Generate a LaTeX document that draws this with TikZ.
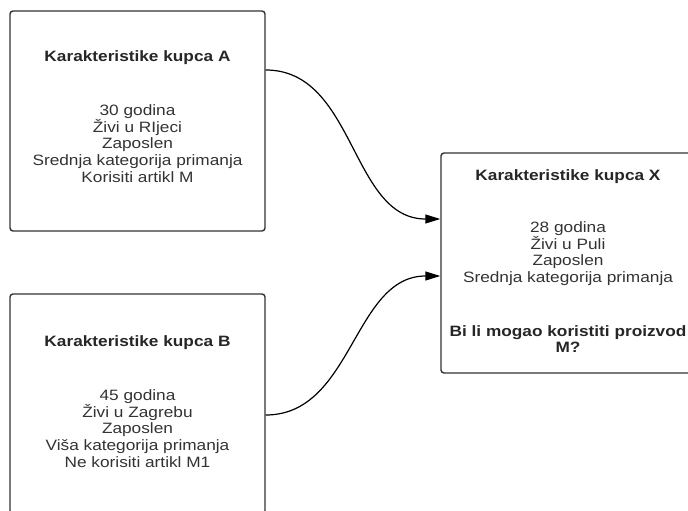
\documentclass[tikz,border=0pt]{standalone}
\usepackage{fontspec}
\setmainfont[FakeStretch=1.15]{Liberation Sans}
\usetikzlibrary{arrows.meta}
\definecolor{ink}{HTML}{333333}
\tikzset{
  card/.style={draw=ink, line width=1.4pt, rounded corners=3pt, fill=white, inner sep=0pt, minimum width=255pt, minimum height=220pt},
  txt/.style={text=ink, align=center, inner sep=0pt, font=\fontsize{15}{16.7}\selectfont},
  ttl/.style={text=black!85, align=center, inner sep=0pt, font=\fontsize{15}{16.7}\selectfont\bfseries},
  link/.style={draw=black, line width=1.2pt, -{Triangle[length=15pt,width=9pt]}}
}
\begin{document}
\begin{tikzpicture}[x=1pt,y=-1pt]
\useasboundingbox (0,0) rectangle (688,511);
\clip (0,0) rectangle (688,511);
\node[card] (A) at (137.5,121) {};
\node[card] (B) at (137.5,404) {};
\node[card, minimum width=254pt] (X) at (568,263) {};
\node[ttl] (At) at (137.5,58) {Karakteristike kupca A};
\node[txt] (Ab) at (137.5,143.5) {30 godina\\Živi u RIjeci\\Zaposlen\\Srednja kategorija primanja\\Korisiti artikl M};
\node[ttl] (Bt) at (137.5,343) {Karakteristike kupca B};
\node[txt] (Bb) at (137.5,428.5) {45 godina\\Živi u Zagrebu\\Zaposlen\\Viša kategorija primanja\\Ne korisiti artikl M1};
\node[ttl] (Xt) at (568,177) {Karakteristike kupca X};
\node[txt] (Xb) at (568,253.5) {28 godina\\Živi u Puli\\Zaposlen\\Srednja kategorija primanja};
\node[ttl] (Xq) at (568,339) {Bi li mogao koristiti proizvod\\M?};
\draw[link] ([yshift=51pt]A.east) to[out=0,in=180] ([yshift=44pt]X.west);
\draw[link] ([yshift=-11pt]B.east) to[out=0,in=180] ([yshift=-13pt]X.west);
\end{tikzpicture}
\end{document}
